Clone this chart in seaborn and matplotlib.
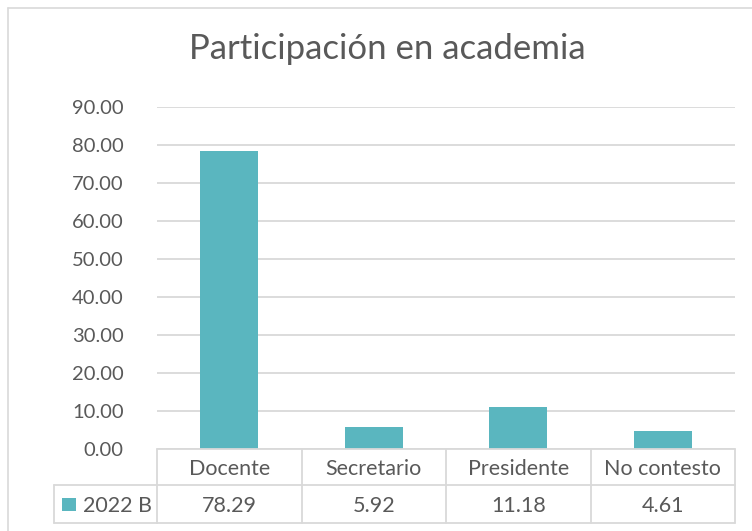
import matplotlib
matplotlib.use("Agg")
import matplotlib.pyplot as plt
import seaborn as sns
import pandas as pd
from matplotlib.lines import Line2D
from matplotlib.patches import Rectangle
from matplotlib.transforms import blended_transform_factory
from matplotlib.ticker import FormatStrFormatter

# Data
categories = ["Docente", "Secretario", "Presidente", "No contesto"]
values = [78.29, 5.92, 11.18, 4.61]
series_name = "2022 B"
title = "Participación en academia"
yticks = [0, 10, 20, 30, 40, 50, 60, 70, 80, 90]

W, H = 752, 531
BAR = "#5AB6BF"
TXT = "#595959"
GRID = "#D9D9D9"

sns.set_theme(style="white")
plt.rcParams["font.family"] = ["Lato", "DejaVu Sans"]

fig = plt.figure(figsize=(W / 100, H / 100), dpi=100)

def fx(x):
    return x / W

def fy(y):
    return 1 - y / H

# plot area (pixel coords)
L, R, T, B = 157, 735, 107, 449
ax = fig.add_axes([fx(L), fy(B), (R - L) / W, (B - T) / H])

df = pd.DataFrame({"cat": categories, "val": values})
sns.barplot(data=df, x="cat", y="val", color=BAR, width=0.4, ax=ax,
            saturation=1, edgecolor="none", zorder=3)
ax.set_xlim(-0.5, len(categories) - 0.5)
ax.set_ylim(0, 90)
ax.set_yticks(yticks)
ax.yaxis.set_major_formatter(FormatStrFormatter("%.2f"))
ax.grid(axis="y", color=GRID, linewidth=1.3, zorder=0)
ax.set_axisbelow(True)
for s in ax.spines.values():
    s.set_visible(False)
ax.set_xticks([])
ax.set_xlabel("")
ax.set_ylabel("")
ax.tick_params(axis="y", length=0, pad=24, labelsize=14.5, labelcolor=TXT)

# Title
fig.text(fx(387), fy(59), title, ha="center", va="baseline",
         fontsize=25, color=TXT)

# Outer chart border
fig.add_artist(Line2D([fx(8), fx(8)], [fy(8), fy(540)], color=GRID, lw=1.2))
fig.add_artist(Line2D([fx(8), fx(760)], [fy(8), fy(8)], color=GRID, lw=1.2))

# Data table
tr = blended_transform_factory(ax.transData, fig.transFigure)
n = len(categories)
row_top, row_mid, row_bot = 449, 485, 523
lw = 1.3
for yy in (row_top, row_mid, row_bot):
    fig.add_artist(Line2D([-0.5, n - 0.5], [fy(yy), fy(yy)], transform=tr,
                          color=GRID, lw=lw))
for yy in (row_mid, row_bot):
    fig.add_artist(Line2D([fx(54), fx(L)], [fy(yy), fy(yy)], color=GRID, lw=lw))
fig.add_artist(Line2D([fx(54), fx(54)], [fy(row_mid), fy(row_bot)], color=GRID, lw=lw))
for i in range(n + 1):
    fig.add_artist(Line2D([i - 0.5, i - 0.5], [fy(row_top), fy(row_bot)], transform=tr,
                          color=GRID, lw=lw))

for i, (c, v) in enumerate(zip(categories, values)):
    fig.text(i, fy((row_top + row_mid) / 2), c, transform=tr, ha="center",
             va="center_baseline", fontsize=15.5, color=TXT)
    fig.text(i, fy((row_mid + row_bot) / 2), f"{v:.2f}", transform=tr, ha="center",
             va="center_baseline", fontsize=15.5, color=TXT)

# legend key
fig.add_artist(Rectangle((fx(62), fy(511)), 14 / W, 13 / H, facecolor=BAR,
                         edgecolor="none"))
fig.text(fx(83), fy((row_mid + row_bot) / 2), series_name, ha="left",
         va="center_baseline", fontsize=15.5, color=TXT)

fig.savefig("out.png", dpi=100)
